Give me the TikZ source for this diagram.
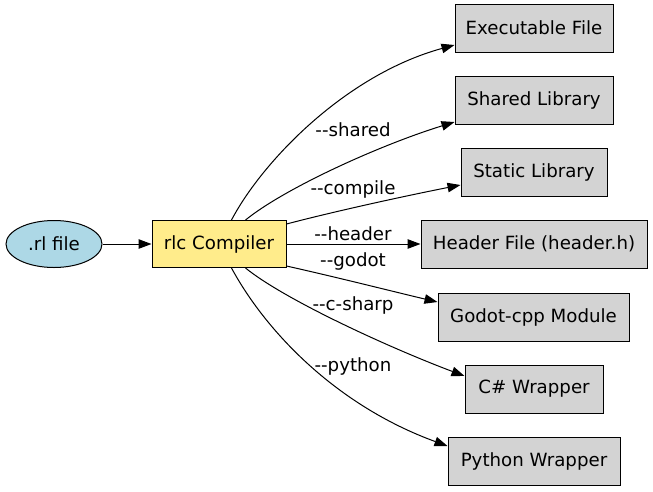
\documentclass[tikz,border=0pt]{standalone}
\usepackage{fontspec}
\setmainfont{DejaVu Sans}
\usetikzlibrary{arrows.meta,shapes.geometric}
\definecolor{inblue}{HTML}{ADD8E6}
\definecolor{compy}{HTML}{FFEC8B}
\definecolor{outg}{HTML}{D3D3D3}
\tikzset{
  outbox/.style={draw=black,fill=outg,rectangle,inner sep=0pt,minimum height=48pt,line width=1pt},
  edge/.style={draw=black,line width=1pt,-{Triangle[length=13pt,width=9.5pt]}},
  lbl/.style={inner sep=0pt}
}
\begin{document}
\begin{tikzpicture}[x=1pt,y=-1pt,font=\fontsize{18.2}{21}\selectfont]
\useasboundingbox (0,0) rectangle (653,491);
\node[draw=black,fill=inblue,ellipse,inner sep=0pt,minimum width=96pt,minimum height=47pt,line width=1pt] (rl) at (54,244) {.rl file};
\node[draw=black,fill=compy,rectangle,inner sep=0pt,minimum width=134pt,minimum height=47pt,line width=1pt] (rlc) at (219,244) {rlc Compiler};
\node[outbox,minimum width=158pt] (exe) at (534,28) {Executable File};
\node[outbox,minimum width=158pt] (shared) at (534,100) {Shared Library};
\node[outbox,minimum width=146pt] (static) at (534,172) {Static Library};
\node[outbox,minimum width=226pt] (header) at (534,244) {Header File (header.h)};
\node[outbox,minimum width=191pt] (godot) at (533.5,317) {Godot-cpp Module};
\node[outbox,minimum width=138pt] (cs) at (534,389) {C\# Wrapper};
\node[outbox,minimum width=172pt] (py) at (534,461) {Python Wrapper};

\draw[edge] (rl.east) -- (rlc.west);
\draw[edge] (rlc.north west) ++(80,0) coordinate (s1) (s1) .. controls (262,162) and (345,75) .. (exe.west |- 0,45);
\draw[edge] (rlc.north west) ++(94,0) coordinate (s2) (s2) .. controls (285,188) and (380,145) .. (shared.west |- 0,122);
\draw[edge] (rlc.north east) ++(0,4) coordinate (s3) (s3) .. controls (340,210) and (410,195) .. (static.west |- 0,185);
\draw[edge] (rlc.east) -- (header.west);
\draw[edge] (rlc.south east) ++(0,-2) coordinate (s5) (s5) .. controls (340,278) and (395,292) .. (godot.west |- 0,302);
\draw[edge] (rlc.south west) ++(94,0) coordinate (s6) (s6) .. controls (285,300) and (390,348) .. (cs.west |- 0,376);
\draw[edge] (rlc.south west) ++(80,0) coordinate (s7) (s7) .. controls (265,330) and (335,405) .. (py.west |- 0,446);

\node[lbl] (l2) at (353,130) {-{}-shared};
\node[lbl] (l3) at (353,189) {-{}-compile};
\node[lbl] (l4) at (353,234) {-{}-header};
\node[lbl] (l5) at (353,261) {-{}-godot};
\node[lbl] (l6) at (353,305) {-{}-c-sharp};
\node[lbl] (l7) at (353,366) {-{}-python};
\end{tikzpicture}
\end{document}
